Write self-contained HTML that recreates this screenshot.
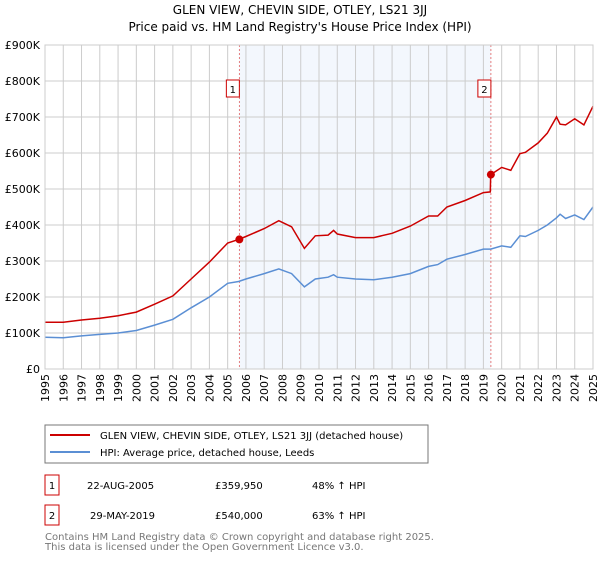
<!DOCTYPE html>
<html><head><meta charset="utf-8"><style>
body{margin:0;background:#fff;font-family:"Liberation Sans","DejaVu Sans",sans-serif;}
svg text{font-family:"DejaVu Sans","Liberation Sans",sans-serif;}
</style></head><body>
<svg id="c" width="600" height="560" xmlns="http://www.w3.org/2000/svg">
<text x="300" y="14" text-anchor="middle" font-size="12">GLEN VIEW, CHEVIN SIDE, OTLEY, LS21 3JJ</text>
<text x="300" y="31" text-anchor="middle" font-size="12">Price paid vs. HM Land Registry's House Price Index (HPI)</text>
<g id="grid"></g><g id="series"></g><g id="axes"></g>
<rect x="45" y="425" width="383" height="38" fill="#fff" stroke="#777"/>
<line x1="50" y1="435" x2="90" y2="435" stroke="#cc0000" stroke-width="2"/>
<text x="100" y="439" font-size="10">GLEN VIEW, CHEVIN SIDE, OTLEY, LS21 3JJ (detached house)</text>
<line x1="50" y1="452" x2="90" y2="452" stroke="#5b8fd4" stroke-width="2"/>
<text x="100" y="456" font-size="10">HPI: Average price, detached house, Leeds</text>
<rect x="45" y="475" width="14" height="20" fill="none" stroke="#cc0000"/>
<text x="52" y="489" font-size="10" text-anchor="middle">1</text>
<text x="87" y="489" font-size="10">22-AUG-2005</text>
<text x="215" y="489" font-size="10">£359,950</text>
<text x="312" y="489" font-size="10">48% ↑ HPI</text>
<rect x="45" y="505" width="14" height="20" fill="none" stroke="#cc0000"/>
<text x="52" y="519" font-size="10" text-anchor="middle">2</text>
<text x="90" y="519" font-size="10">29-MAY-2019</text>
<text x="215" y="519" font-size="10">£540,000</text>
<text x="312" y="519" font-size="10">63% ↑ HPI</text>
<text x="45" y="540" font-size="10" fill="#777">Contains HM Land Registry data © Crown copyright and database right 2025.</text>
<text x="45" y="550" font-size="10" fill="#777">This data is licensed under the Open Government Licence v3.0.</text>
</svg>
<script>
const hpiYears=[1995,1996,1997,1998,1999,2000,2001,2002,2003,2004,2005,2005.6,2006,2007,2007.8,2008.5,2009.2,2009.8,2010.5,2010.8,2011,2012,2013,2014,2015,2016,2016.5,2017,2018,2019,2019.4,2020,2020.5,2021,2021.3,2022,2022.5,2023,2023.2,2023.5,2024,2024.5,2025];
const hpiValues=[88,87,92,96,100,107,122,138,170,200,238,243,250,265,278,265,228,250,255,262,255,250,248,255,265,285,290,305,318,333,333,342,338,370,368,385,400,420,430,418,428,415,450];
const propYears=[1995,1996,1997,1998,1999,2000,2001,2002,2003,2004,2005,2005.6,2006,2007,2007.8,2008.5,2009.2,2009.8,2010.5,2010.8,2011,2012,2013,2014,2015,2016,2016.5,2017,2018,2019,2019.38,2019.4,2020,2020.5,2021,2021.3,2022,2022.5,2023,2023.2,2023.5,2024,2024.5,2025];
const propValues=[130,130,136,141,148,158,180,203,250,297,350,360,368,390,412,395,335,370,372,385,375,365,365,377,397,425,425,450,468,490,492,540,560,552,598,602,628,655,700,680,678,695,678,730];
const saleYears=[2005.64,2019.41];
const saleValues=[359.95,540];
const saleLabels=["1","2"];
const yTicks=[0,100,200,300,400,500,600,700,800,900];
const yTickLabels=["£0","£100K","£200K","£300K","£400K","£500K","£600K","£700K","£800K","£900K"];
const xTicks=[1995,1996,1997,1998,1999,2000,2001,2002,2003,2004,2005,2006,2007,2008,2009,2010,2011,2012,2013,2014,2015,2016,2017,2018,2019,2020,2021,2022,2023,2024,2025];
const X0=45,X1=593,Y0=369,Y1=45;
const xs=y=>X0+(y-1995)/30*(X1-X0);
const ys=v=>Y0-v/900*(Y0-Y1);
const NS="http://www.w3.org/2000/svg";
function mk(p,t,a){const e=document.createElementNS(NS,t);for(const k in a)e.setAttribute(k,a[k]);p.appendChild(e);return e;}
const g=document.getElementById('grid'),s=document.getElementById('series'),ax=document.getElementById('axes');
const sh=mk(g,'rect',{x:xs(saleYears[0]),y:Y1,width:xs(saleYears[1])-xs(saleYears[0]),height:Y0-Y1,fill:'#eef3fc',opacity:0.7});


xTicks.forEach(t=>{const l=mk(g,'line',{x1:xs(t),x2:xs(t),y1:Y1,y2:Y0,stroke:'#ccc'});


const tx=mk(ax,'text',{x:0,y:0,'font-size':11,'text-anchor':'end',transform:`translate(${xs(t)+4},${Y0+5}) rotate(-90)`});tx.textContent=t;

});
yTicks.forEach((t,i)=>{const l=mk(g,'line',{x1:X0,x2:X1,y1:ys(t),y2:ys(t),stroke:'#ccc'});


const tx=mk(ax,'text',{x:X0-5,y:ys(t)+4,'font-size':11,'text-anchor':'end'});tx.textContent=yTickLabels[i];

});
const bx=mk(ax,'rect',{x:X0,y:Y1,width:X1-X0,height:Y0-Y1,fill:'none',stroke:'#ccc'});


saleYears.forEach((y,i)=>{const l=mk(s,'line',{x1:xs(y),x2:xs(y),y1:Y1,y2:Y0,stroke:'#e06060','stroke-dasharray':'2,2','stroke-width':0.8});


const r=mk(ax,'rect',{x:xs(y)-13,y:80,width:13,height:17,fill:'#fff',stroke:'#cc0000'});


const t=mk(ax,'text',{x:xs(y)-6.5,y:93,'font-size':10,'text-anchor':'middle'});t.textContent=saleLabels[i];});
const pts=(X,V)=>X.map((x,i)=>xs(x).toFixed(1)+','+ys(V[i]).toFixed(1)).join(' ');
const hl=mk(s,'polyline',{points:pts(hpiYears,hpiValues),fill:'none',stroke:'#5b8fd4','stroke-width':1.5});


const pl=mk(s,'polyline',{points:pts(propYears,propValues),fill:'none',stroke:'#cc0000','stroke-width':1.5});


saleYears.forEach((y,i)=>{const c=mk(s,'circle',{cx:xs(y),cy:ys(saleValues[i]),r:4,fill:'#cc0000'});

});
</script>
</body></html>
